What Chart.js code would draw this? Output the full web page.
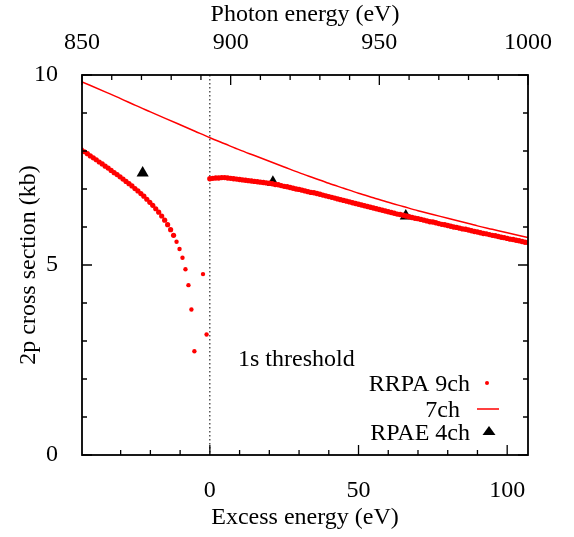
<!DOCTYPE html>
<html>
<head>
<meta charset="utf-8">
<script src="https://cdn.jsdelivr.net/npm/chart.js@4.4.1/dist/chart.umd.min.js"></script>
<style>
  html, body { margin: 0; padding: 0; background: #fff; }
</style>
</head>
<body>
<canvas id="myChart" width="574" height="537"></canvas>
<script>
// photon energy = excess energy + 1s threshold
var thresholdEv = 893;
var excessTicks = [0, 50, 100];
var photonTicks = [850, 900, 950, 1000];
var crossTicks = [0, 5, 10];

// RRPA 9ch, below the 1s threshold
var rrpaBelowX = [-43.2, -42.2, -41.2, -40.2, -39.2, -38.2, -37.2, -36.2, -35.2, -34.2,
    -33.2, -32.2, -31.2, -30.2, -29.2, -28.2, -27.2, -26.2, -25.2, -24.2,
    -23.2, -22.2, -21.2, -20.2, -19.2, -18.2, -17.2, -16.2, -15.2, -14.2,
    -13.2, -12.2, -11.2, -10.2, -9.2, -8.2, -7.2, -6.2, -5.2, -2.3, -1.1];
var rrpaBelowY = [8.03, 7.98, 7.93, 7.87, 7.82, 7.77, 7.71, 7.66, 7.60, 7.55,
    7.49, 7.43, 7.38, 7.32, 7.26, 7.20, 7.14, 7.08, 7.01, 6.95,
    6.88, 6.81, 6.73, 6.65, 6.57, 6.48, 6.39, 6.29, 6.18, 6.06,
    5.93, 5.78, 5.61, 5.42, 5.19, 4.89, 4.47, 3.83, 2.73, 4.76, 3.17];

// RRPA 9ch, above the 1s threshold
var rrpaAboveX = [0, 1, 2, 3, 4, 5, 6, 7, 8, 9,
    10, 11, 12, 13, 14, 15, 16, 17, 18, 19,
    20, 21, 22, 23, 24, 25, 26, 27, 28, 29,
    30, 31, 32, 33, 34, 35, 36, 37, 38, 39,
    40, 41, 42, 43, 44, 45, 46, 47, 48, 49,
    50, 51, 52, 53, 54, 55, 56, 57, 58, 59,
    60, 61, 62, 63, 64, 65, 66, 67, 68, 69,
    70, 71, 72, 73, 74, 75, 76, 77, 78, 79,
    80, 81, 82, 83, 84, 85, 86, 87, 88, 89,
    90, 91, 92, 93, 94, 95, 96, 97, 98, 99,
    100, 101, 102, 103, 104, 105, 106, 107];
var rrpaAboveY = [7.27, 7.28, 7.29, 7.29, 7.30, 7.30, 7.29, 7.28, 7.27, 7.26,
    7.25, 7.24, 7.23, 7.22, 7.21, 7.20, 7.19, 7.18, 7.17, 7.16,
    7.15, 7.14, 7.12, 7.11, 7.09, 7.07, 7.06, 7.04, 7.02, 7.00,
    6.99, 6.97, 6.95, 6.93, 6.91, 6.90, 6.88, 6.86, 6.84, 6.82,
    6.80, 6.78, 6.76, 6.74, 6.72, 6.70, 6.68, 6.66, 6.64, 6.62,
    6.60, 6.58, 6.56, 6.54, 6.52, 6.50, 6.48, 6.46, 6.44, 6.42,
    6.40, 6.38, 6.36, 6.34, 6.33, 6.31, 6.29, 6.27, 6.25, 6.23,
    6.22, 6.20, 6.18, 6.16, 6.14, 6.13, 6.11, 6.09, 6.07, 6.06,
    6.04, 6.02, 6.00, 5.99, 5.97, 5.95, 5.94, 5.92, 5.90, 5.88,
    5.87, 5.85, 5.83, 5.82, 5.80, 5.78, 5.77, 5.75, 5.73, 5.72,
    5.70, 5.68, 5.67, 5.65, 5.64, 5.62, 5.60, 5.59];

// 7ch
var ch7X = [-43, -35, -30, -25, -20, -15, -10, -5, 0, 5, 10, 15, 20, 25, 30, 35, 40, 45,
    50, 55, 60, 65, 70, 75, 80, 85, 90, 95, 100, 107];
var ch7Y = [9.82, 9.55, 9.38, 9.20, 9.03, 8.86, 8.69, 8.52, 8.35, 8.19, 8.03, 7.88, 7.73, 7.58,
    7.43, 7.29, 7.15, 7.02, 6.89, 6.77, 6.65, 6.54, 6.43, 6.33, 6.23, 6.13, 6.03, 5.94, 5.85, 5.72];

// RPAE 4ch
var rpaeX = [-22.6, 21.2, 65.9];
var rpaeY = [7.42, 7.18, 6.29];

function pts(xs, ys) {
    return xs.map(function (x, i) { return { x: x, y: ys[i] }; });
}

var serif = 'Liberation Serif, Times New Roman, serif';
var red = '#ff0000';

var gnuplotBits = {
    id: 'gnuplotBits',
    beforeDatasetsDraw: function (chart) {
        var ctx = chart.ctx, a = chart.chartArea;
        var x0 = chart.scales.x.getPixelForValue(0);
        ctx.save();
        ctx.strokeStyle = '#000';
        ctx.lineWidth = 1;
        ctx.setLineDash([1.5, 2.5]);
        ctx.beginPath();
        ctx.moveTo(x0, a.top);
        ctx.lineTo(x0, a.bottom);
        ctx.stroke();
        ctx.restore();
    },
    afterDatasetsDraw: function (chart) {
        var ctx = chart.ctx, a = chart.chartArea;
        var sx = chart.scales.x, sx2 = chart.scales.x2, sy = chart.scales.y;
        ctx.save();
        ctx.strokeStyle = '#000';
        ctx.lineWidth = 1.3;
        ctx.beginPath();
        var v, p, len;
        // bottom ticks
        for (v = -30; v <= 100; v += 10) {
            p = sx.getPixelForValue(v);
            len = excessTicks.indexOf(v) >= 0 ? 10 : 5;
            ctx.moveTo(p, a.bottom); ctx.lineTo(p, a.bottom - len);
        }
        // top ticks
        for (v = 850; v <= 1000; v += 10) {
            p = sx2.getPixelForValue(v);
            len = photonTicks.indexOf(v) >= 0 ? 10 : 5;
            ctx.moveTo(p, a.top); ctx.lineTo(p, a.top + len);
        }
        // left and right ticks
        for (v = 0; v <= 10; v += 1) {
            p = sy.getPixelForValue(v);
            len = crossTicks.indexOf(v) >= 0 ? 10 : 5;
            ctx.moveTo(a.left, p); ctx.lineTo(a.left + len, p);
            ctx.moveTo(a.right, p); ctx.lineTo(a.right - len, p);
        }
        ctx.stroke();

        ctx.lineWidth = 1.8;
        ctx.strokeRect(a.left, a.top, a.right - a.left, a.bottom - a.top);

        // labels inside the plot
        ctx.fillStyle = '#000';
        ctx.font = '24px ' + serif;
        ctx.textBaseline = 'alphabetic';
        ctx.textAlign = 'left';
        ctx.fillText('1s threshold', 238, 366);
        ctx.textAlign = 'right';
        ctx.fillText('RRPA 9ch', 470, 391);
        ctx.fillText('7ch', 460, 417);
        ctx.fillText('RPAE 4ch', 470, 440);

        // legend samples
        ctx.fillStyle = red;
        ctx.beginPath();
        ctx.arc(487, 383, 2, 0, Math.PI * 2);
        ctx.fill();
        ctx.strokeStyle = red;
        ctx.lineWidth = 1.5;
        ctx.beginPath();
        ctx.moveTo(477, 409); ctx.lineTo(499, 409);
        ctx.stroke();
        ctx.fillStyle = '#000';
        ctx.beginPath();
        ctx.moveTo(489, 426);
        ctx.lineTo(495.5, 435);
        ctx.lineTo(482.5, 435);
        ctx.closePath();
        ctx.fill();
        ctx.restore();
    }
};

function plainLabel(v) { return String(v); }

var ctx = document.getElementById('myChart');
var chart = new Chart(ctx, {
    type: 'scatter',
    data: {
        datasets: [{
            label: 'RRPA 9ch',
            data: pts(rrpaBelowX, rrpaBelowY),
            backgroundColor: red,
            borderColor: red,
            borderWidth: 0,
            // the densely sampled part reads as a solid band
            pointRadius: function (c) { return c.raw && c.raw.x < -12 ? 2.6 : 2.2; },
            showLine: false
        }, {
            label: 'RRPA 9ch',
            data: pts(rrpaAboveX, rrpaAboveY),
            backgroundColor: red,
            borderColor: red,
            borderWidth: 0,
            pointRadius: 2.7,
            showLine: false
        }, {
            label: '7ch',
            data: pts(ch7X, ch7Y),
            borderColor: red,
            borderWidth: 1.5,
            pointRadius: 0,
            showLine: true,
            cubicInterpolationMode: 'monotone'
        }, {
            label: 'RPAE 4ch',
            data: pts(rpaeX, rpaeY),
            backgroundColor: '#000',
            borderColor: '#000',
            borderWidth: 0,
            pointStyle: 'triangle',
            pointRadius: 7,
            showLine: false
        }]
    },
    options: {
        responsive: false,
        animation: false,
        events: [],
        layout: { padding: { left: 0, right: 46, top: 0, bottom: 0 } },
        plugins: {
            legend: { display: false },
            tooltip: { enabled: false }
        },
        scales: {
            x: {
                type: 'linear',
                position: 'bottom',
                min: -43,
                max: 107,
                afterBuildTicks: function (s) { s.ticks = excessTicks.map(function (v) { return { value: v }; }); },
                afterFit: function (s) { s.height = 82; },
                grid: { display: false },
                border: { display: false },
                ticks: { color: '#000', font: { family: serif, size: 24 }, padding: 13, maxRotation: 0, autoSkip: false, callback: plainLabel },
                title: { display: true, text: 'Excess energy (eV)', color: '#000', font: { family: serif, size: 24 }, padding: { top: 0, bottom: 5 } }
            },
            x2: {
                type: 'linear',
                position: 'top',
                min: thresholdEv - 43,
                max: thresholdEv + 107,
                afterBuildTicks: function (s) { s.ticks = photonTicks.map(function (v) { return { value: v }; }); },
                afterFit: function (s) { s.height = 75; },
                grid: { display: false },
                border: { display: false },
                ticks: { color: '#000', font: { family: serif, size: 24 }, padding: 10, maxRotation: 0, autoSkip: false, callback: plainLabel },
                title: { display: true, text: 'Photon energy (eV)', color: '#000', font: { family: serif, size: 24 }, padding: { top: 0, bottom: 0 } }
            },
            y: {
                type: 'linear',
                position: 'left',
                min: 0,
                max: 10,
                afterBuildTicks: function (s) { s.ticks = crossTicks.map(function (v) { return { value: v }; }); },
                afterFit: function (s) { s.width = 82; },
                grid: { display: false },
                border: { display: false },
                ticks: { color: '#000', font: { family: serif, size: 24 }, padding: 16, callback: plainLabel },
                title: { display: true, text: '2p cross section (kb)', color: '#000', font: { family: serif, size: 24 }, padding: { top: 14, bottom: 0 } }
            }
        }
    },
    plugins: [gnuplotBits]
});
</script>
</body>
</html>
